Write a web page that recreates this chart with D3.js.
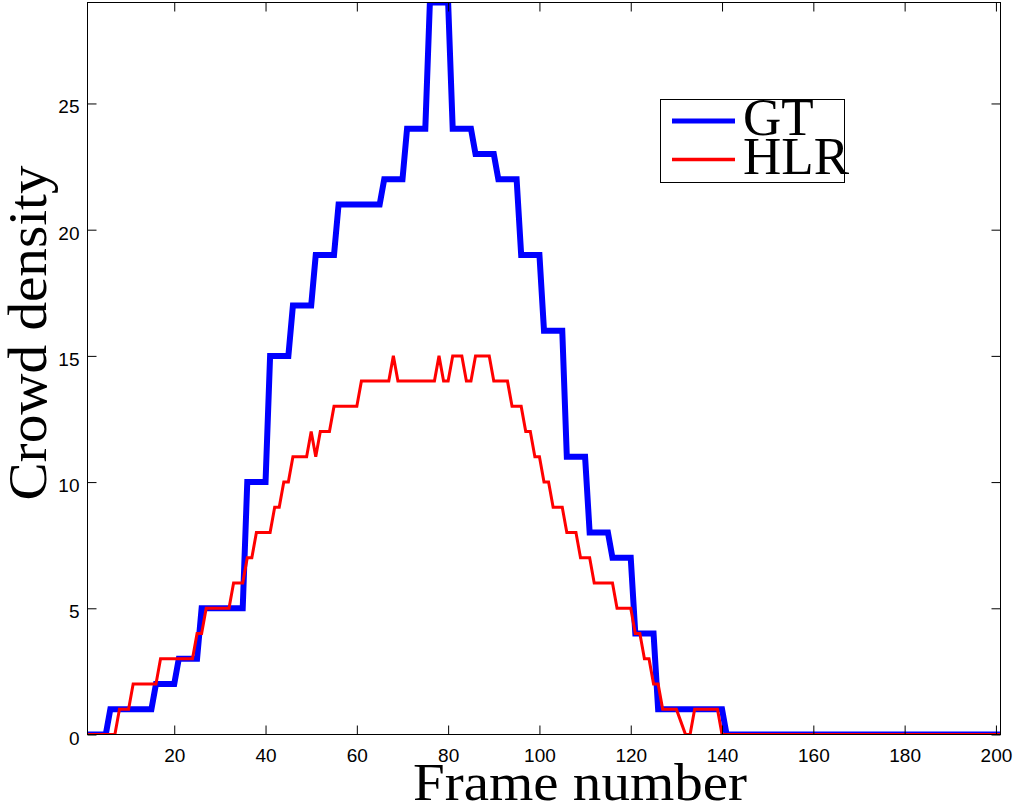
<!DOCTYPE html>
<html>
<head>
<meta charset="utf-8">
<script src="https://cdn.jsdelivr.net/npm/d3@7"></script>
<style>
  html, body { margin: 0; padding: 0; background: #fff; }
  svg { display: block; }
</style>
</head>
<body>
<svg id="chart" width="1020" height="806"></svg>
<script>
// ---------------- data ----------------
const seriesNames = ["GT", "HLR"];
const seriesColors = ["#0000ff", "#ff0000"];
const frames = d3.range(1, 202); // frame numbers 1..201

const gtValues = [
  0,0,0,0,0,1,1,1,1,1,
  1,1,1,1,1,2,2,2,2,2,
  3,3,3,3,3,5,5,5,5,5,
  5,5,5,5,5,10,10,10,10,10,
  15,15,15,15,15,17,17,17,17,17,
  19,19,19,19,19,21,21,21,21,21,
  21,21,21,21,21,22,22,22,22,22,
  24,24,24,24,24,29,29,29,29,29,
  24,24,24,24,24,23,23,23,23,23,
  22,22,22,22,22,19,19,19,19,19,
  16,16,16,16,16,11,11,11,11,11,
  8,8,8,8,8,7,7,7,7,7,
  4,4,4,4,4,1,1,1,1,1,
  1,1,1,1,1,1,1,1,1,1,
  0,0,0,0,0,0,0,0,0,0,
  0,0,0,0,0,0,0,0,0,0,
  0,0,0,0,0,0,0,0,0,0,
  0,0,0,0,0,0,0,0,0,0,
  0,0,0,0,0,0,0,0,0,0,
  0,0,0,0,0,0,0,0,0,0,
  0
];

const hlrValues = [
  0,0,0,0,0,0,0,1,1,1,
  2,2,2,2,2,2,3,3,3,3,
  3,3,3,3,4,4,5,5,5,5,
  5,5,6,6,6,7,7,8,8,8,
  8,9,9,10,10,11,11,11,11,12,
  11,12,12,12,13,13,13,13,13,13,
  14,14,14,14,14,14,14,15,14,14,
  14,14,14,14,14,14,14,15,14,14,
  15,15,15,14,14,15,15,15,15,14,
  14,14,14,13,13,13,12,12,11,11,
  10,10,9,9,9,8,8,8,7,7,
  7,6,6,6,6,6,5,5,5,5,
  4,4,3,3,2,2,1,1,1,1,
  0.5,0,0,1,1,1,1,1,1,0,
  0,0,0,0,0,0,0,0,0,0,
  0,0,0,0,0,0,0,0,0,0,
  0,0,0,0,0,0,0,0,0,0,
  0,0,0,0,0,0,0,0,0,0,
  0,0,0,0,0,0,0,0,0,0,
  0,0,0,0,0,0,0,0,0,0,
  0
];

const xTicks = [20, 40, 60, 80, 100, 120, 140, 160, 180, 200];
const yTicks = [0, 5, 10, 15, 20, 25];
const xLabel = "Frame number";
const yLabel = "Crowd density";

// ---------------- layout ----------------
const svg = d3.select("#chart");
const L = 87.5, R = 1000.5, T = 2.5, B = 734.5;

svg.append("rect").attr("width", 1020).attr("height", 806).attr("fill", "#fff");

const x = d3.scaleLinear().domain([1, 201]).range([L, R]);
const y = d3.scaleLinear().domain([0, 29]).range([B, T]);

const tickFont = "'Liberation Sans', Arial, Helvetica, sans-serif";
const serifFont = "'Liberation Serif', 'Times New Roman', serif";

// clip
svg.append("defs").append("clipPath").attr("id", "plotClip")
  .append("rect").attr("x", L).attr("y", T).attr("width", R - L).attr("height", B - T);

// lines
const seriesData = [gtValues, hlrValues];
const widths = [6, 3];
const line = d3.line().x((d, i) => x(frames[i])).y(d => y(d));
const plot = svg.append("g").attr("clip-path", "url(#plotClip)");
seriesData.forEach((vals, k) => {
  plot.append("path")
    .datum(vals)
    .attr("d", line)
    .attr("fill", "none")
    .attr("stroke", seriesColors[k])
    .attr("stroke-width", widths[k])
    .attr("stroke-linejoin", "miter")
    .attr("stroke-miterlimit", 4);
});

// axes (ticks inward on all four sides)
function styleAxis(g) {
  g.select(".domain").remove();
  g.selectAll(".tick line").attr("stroke", "#000").attr("stroke-width", 1);
  g.selectAll(".tick text").attr("fill", "#000")
    .style("font-family", tickFont).style("font-size", "19px");
}

const gx = svg.append("g").attr("transform", `translate(0,${B})`)
  .call(d3.axisBottom(x).tickValues(xTicks).tickSizeInner(-9).tickSizeOuter(0).tickFormat(d3.format("d")))
  .call(styleAxis);
gx.selectAll(".tick text").attr("y", 27.5).attr("dy", 0);

const gxt = svg.append("g").attr("transform", `translate(0,${T})`)
  .call(d3.axisTop(x).tickValues(xTicks).tickSizeInner(-9).tickSizeOuter(0).tickFormat(""))
  .call(styleAxis);

const gy = svg.append("g").attr("transform", `translate(${L},0)`)
  .call(d3.axisLeft(y).tickValues(yTicks).tickSizeInner(-9).tickSizeOuter(0).tickFormat(d3.format("d")))
  .call(styleAxis);
gy.selectAll(".tick text").attr("x", -8).attr("y", 9.5).attr("dy", 0);

const gyr = svg.append("g").attr("transform", `translate(${R},0)`)
  .call(d3.axisRight(y).tickValues(yTicks).tickSizeInner(-9).tickSizeOuter(0).tickFormat(""))
  .call(styleAxis);

// box
svg.append("rect").attr("x", L).attr("y", T).attr("width", R - L).attr("height", B - T)
  .attr("fill", "none").attr("stroke", "#000").attr("stroke-width", 1);

// axis titles
svg.append("text").attr("x", 413).attr("y", 800)
  .attr("textLength", 334).attr("lengthAdjust", "spacingAndGlyphs")
  .style("font-family", serifFont).style("font-size", "53px").attr("fill", "#000")
  .text(xLabel);

svg.append("text").attr("transform", "translate(46,333) rotate(-90)")
  .attr("text-anchor", "middle")
  .attr("textLength", 335).attr("lengthAdjust", "spacingAndGlyphs")
  .style("font-family", serifFont).style("font-size", "54px").attr("fill", "#000")
  .text(yLabel);

// legend
const leg = svg.append("g");
leg.append("rect").attr("x", 660.5).attr("y", 99.5).attr("width", 184).attr("height", 83)
  .attr("fill", "#fff").attr("stroke", "#000").attr("stroke-width", 1);
const legY = [121, 159.5];
const legBase = [135, 174];
seriesNames.forEach((name, k) => {
  leg.append("line").attr("x1", 672).attr("x2", 735).attr("y1", legY[k]).attr("y2", legY[k])
    .attr("stroke", seriesColors[k]).attr("stroke-width", k === 0 ? 5 : 3.5);
  leg.append("text").attr("x", 743).attr("y", legBase[k])
    .style("font-family", serifFont).style("font-size", "53px").attr("fill", "#000")
    .text(name);
});
</script>
</body>
</html>
